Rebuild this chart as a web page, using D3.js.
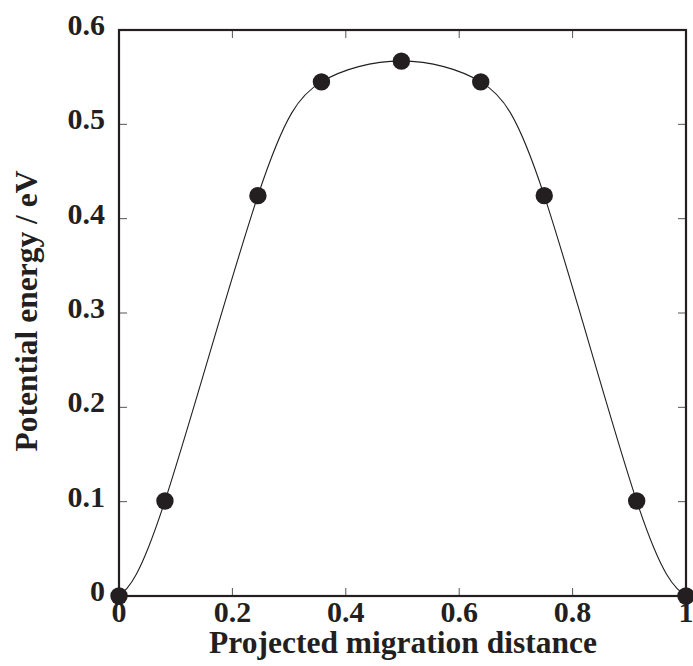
<!DOCTYPE html>
<html>
<head>
<meta charset="utf-8">
<script src="https://cdn.jsdelivr.net/npm/d3@7"></script>
<style>
  html, body { margin: 0; padding: 0; background: #fff; }
  svg { display: block; }
  text { font-family: "Liberation Serif", "Times New Roman", serif; font-weight: bold; fill: #231f20; }
</style>
</head>
<body>
<svg id="chart" width="693" height="666"></svg>
<script>
// Data
const distance = [0, 0.081, 0.245, 0.357, 0.498, 0.638, 0.75, 0.913, 1];
const energy   = [0, 0.1007, 0.4244, 0.545, 0.567, 0.545, 0.4244, 0.1007, 0];
const xTicks = [0, 0.2, 0.4, 0.6, 0.8, 1];
const yTicks = [0, 0.1, 0.2, 0.3, 0.4, 0.5, 0.6];
const xTickLabels = ["0", "0.2", "0.4", "0.6", "0.8", "1"];
const yTickLabels = ["0", "0.1", "0.2", "0.3", "0.4", "0.5", "0.6"];

(function () {
const svg = d3.select("#chart");
const pL = 119, pR = 686, pT = 30, pB = 596;
const x = d3.scaleLinear().domain([0, 1]).range([pL, pR]);
const y = d3.scaleLinear().domain([0, 0.6]).range([pB, pT]);
const ink = "#231f20";
const tickLen = 8;

// ticks (inward on all sides)
const tk = svg.append("g").attr("stroke", "#555").attr("stroke-width", 1);
xTicks.forEach(v => {
  tk.append("line").attr("x1", x(v)).attr("x2", x(v)).attr("y1", pB).attr("y2", pB - tickLen);
  tk.append("line").attr("x1", x(v)).attr("x2", x(v)).attr("y1", pT).attr("y2", pT + tickLen);
});
yTicks.forEach(v => {
  tk.append("line").attr("y1", y(v)).attr("y2", y(v)).attr("x1", pL).attr("x2", pL + tickLen);
  tk.append("line").attr("y1", y(v)).attr("y2", y(v)).attr("x1", pR).attr("x2", pR - tickLen);
});

// frame
svg.append("rect").attr("x", pL).attr("y", pT)
  .attr("width", pR - pL).attr("height", pB - pT)
  .attr("fill", "none").attr("stroke", ink).attr("stroke-width", 2.2);

// tick labels
svg.append("g").selectAll("text").data(xTicks).join("text")
  .attr("x", d => x(d)).attr("y", 622)
  .attr("text-anchor", "middle").attr("font-size", 30)
  .text((d, i) => xTickLabels[i]);
svg.append("g").selectAll("text").data(yTicks).join("text")
  .attr("x", 105).attr("y", d => y(d) + 5)
  .attr("text-anchor", "end").attr("font-size", 30)
  .text((d, i) => yTickLabels[i]);

// axis titles
svg.append("text").attr("x", 403).attr("y", 653)
  .attr("text-anchor", "middle").attr("font-size", 31.5)
  .text("Projected migration distance");
svg.append("text").attr("transform", "translate(37,311) rotate(-90)")
  .attr("text-anchor", "middle").attr("font-size", 31.5)
  .text("Potential energy / eV");

// curve
const pts = distance.map((d, i) => [d, energy[i]]);
const line = d3.line().x(d => x(d[0])).y(d => y(d[1])).curve(d3.curveNatural);
svg.append("path").attr("d", line(pts))
  .attr("fill", "none").attr("stroke", ink).attr("stroke-width", 1.1);

// points
svg.append("g").selectAll("circle").data(pts).join("circle")
  .attr("cx", d => x(d[0])).attr("cy", d => y(d[1])).attr("r", 8.7)
  .attr("fill", ink);
})();
</script>
</body>
</html>
